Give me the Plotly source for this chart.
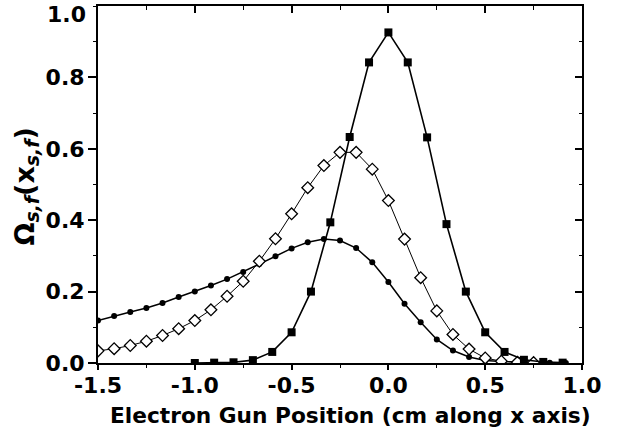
import plotly.graph_objects as go

# Filled squares: 0.1 cm steps
sq_x = [-1.0, -0.9, -0.8, -0.7, -0.6, -0.5, -0.4, -0.3, -0.2, -0.1,
        0.0, 0.1, 0.2, 0.3, 0.4, 0.5, 0.6, 0.7, 0.8, 0.9]
sq_y = [0.000, 0.001, 0.002, 0.008, 0.031, 0.086, 0.200, 0.394, 0.633, 0.842,
        0.926, 0.842, 0.632, 0.389, 0.200, 0.086, 0.031, 0.009, 0.003, 0.001]

# Open diamonds: 1/12 cm steps from -1.5
dm_x = [-1.5 + k / 12 for k in range(28)]
dm_y = [0.034, 0.040, 0.049, 0.061, 0.077, 0.096, 0.119, 0.149, 0.187, 0.229,
        0.285, 0.348, 0.418, 0.491, 0.553, 0.590, 0.590, 0.543, 0.455, 0.347,
        0.239, 0.146, 0.080, 0.039, 0.014, 0.005, 0.002, 0.001]

# Filled circles: 1/12 cm steps from -1.5
ci_x = [-1.5 + k / 12 for k in range(30)]
ci_y = [0.119, 0.132, 0.143, 0.154, 0.168, 0.185, 0.200, 0.217, 0.235, 0.255,
        0.277, 0.299, 0.321, 0.338, 0.347, 0.343, 0.322, 0.282, 0.227, 0.166,
        0.114, 0.066, 0.035, 0.017, 0.007, 0.004, 0.002, 0.001, 0.001, 0.000]

x_ticks = [-1.5, -1.0, -0.5, 0.0, 0.5, 1.0]
x_tick_text = ["-1.5", "-1.0", "-0.5", "0.0", "0.5", "1.0"]
x_minor = [-1.25, -0.75, -0.25, 0.25, 0.75]
y_ticks = [0.0, 0.2, 0.4, 0.6, 0.8, 1.0]
y_tick_text = ["0.0", "0.2", "0.4", "0.6", "0.8", "1.0"]
y_minor = [0.1, 0.3, 0.5, 0.7, 0.9]

x_title = "Electron Gun Position (cm along x axis)"
y_title = "Ω<sub><i>s,f</i></sub>(x<sub><i>s,f</i></sub>)"

FONT = "DejaVu Sans, Arial, sans-serif"
TICK_SIZE = 22

fig = go.Figure()

fig.add_trace(go.Scatter(
    x=ci_x, y=ci_y, mode="lines+markers",
    line=dict(color="black", width=1.5),
    marker=dict(symbol="circle", size=6, color="black"),
    showlegend=False))

fig.add_trace(go.Scatter(
    x=dm_x, y=dm_y, mode="lines+markers",
    line=dict(color="black", width=1),
    marker=dict(symbol="diamond", size=9, color="white",
                line=dict(color="black", width=1.3)),
    showlegend=False))

fig.add_trace(go.Scatter(
    x=sq_x, y=sq_y, mode="lines+markers",
    line=dict(color="black", width=1.6),
    marker=dict(symbol="square", size=8, color="black"),
    showlegend=False))

# invisible trace that anchors the mirrored top/right axes
fig.add_trace(go.Scatter(x=[0], y=[0], xaxis="x2", yaxis="y2",
                         mode="markers", marker=dict(opacity=0),
                         showlegend=False, hoverinfo="skip"))

axis_common = dict(showgrid=False, zeroline=False, showline=True,
                   linecolor="black", linewidth=2)
tick_font = dict(size=TICK_SIZE, family=FONT, color="black")
Y_RANGE = [0, 1.0]

# the top y label sits at the very edge of the page, so it is drawn as a note
y_axis_ticks = [v for v in y_ticks if v < 1.0]
y_axis_text = [t for v, t in zip(y_ticks, y_tick_text) if v < 1.0]
top_label = [t for v, t in zip(y_ticks, y_tick_text) if v >= 1.0]

annotations = [
    dict(text=f"<b>{x_title}</b>", xref="paper", yref="paper",
         x=(350 - 98) / 484, y=0, yshift=-52,
         xanchor="center", yanchor="middle", showarrow=False,
         font=dict(size=21.7, family=FONT, color="black")),
    dict(text=f"<b>{y_title}</b>", xref="paper", yref="paper",
         x=0, xshift=-72, y=0.5, yshift=-2, textangle=-90,
         xanchor="center", yanchor="middle", showarrow=False,
         font=dict(size=27, family=FONT, color="black")),
]
for t in top_label:
    annotations.append(dict(
        text=f"<b>{t}</b>", xref="paper", yref="y", x=0, y=1.0,
        xanchor="right", yanchor="top", xshift=-10, yshift=6,
        showarrow=False, font=tick_font))

fig.update_layout(
    width=620, height=433,
    margin=dict(l=98, r=38, t=6, b=70),
    paper_bgcolor="white", plot_bgcolor="white",
    font=dict(family=FONT, color="black"),
    xaxis=dict(
        **axis_common, range=[-1.5, 1.0],
        tickmode="array", tickvals=x_ticks,
        ticktext=[f"<b>{t}</b>" for t in x_tick_text],
        ticks="outside", ticklen=5, tickwidth=1.5, tickcolor="black",
        minor=dict(tickmode="array", tickvals=x_minor,
                   ticks="outside", ticklen=3, tickwidth=1, tickcolor="black"),
        tickfont=tick_font, ticklabelstandoff=-3,
    ),
    yaxis=dict(
        **axis_common, range=Y_RANGE,
        tickmode="array", tickvals=y_axis_ticks,
        ticktext=[f"<b>{t}</b>" for t in y_axis_text],
        ticks="outside", ticklen=8, tickwidth=1.5, tickcolor="black",
        minor=dict(tickmode="array", tickvals=y_minor + [1.0],
                   ticks="outside", ticklen=3, tickwidth=1, tickcolor="black"),
        tickfont=tick_font, ticklabelstandoff=-1,
    ),
    xaxis2=dict(
        **axis_common, overlaying="x", side="top", range=[-1.5, 1.0],
        tickmode="array", tickvals=x_ticks, showticklabels=False,
        ticks="inside", ticklen=7, tickwidth=1.5, tickcolor="black",
        minor=dict(tickmode="array", tickvals=x_minor,
                   ticks="inside", ticklen=4, tickwidth=1, tickcolor="black"),
    ),
    yaxis2=dict(
        **axis_common, overlaying="y", side="right", range=Y_RANGE,
        tickmode="array", tickvals=y_ticks, showticklabels=False,
        ticks="inside", ticklen=7, tickwidth=1.5, tickcolor="black",
        minor=dict(tickmode="array", tickvals=y_minor,
                   ticks="inside", ticklen=3, tickwidth=1, tickcolor="black"),
    ),
    annotations=annotations,
)

fig.write_html("out.html")
